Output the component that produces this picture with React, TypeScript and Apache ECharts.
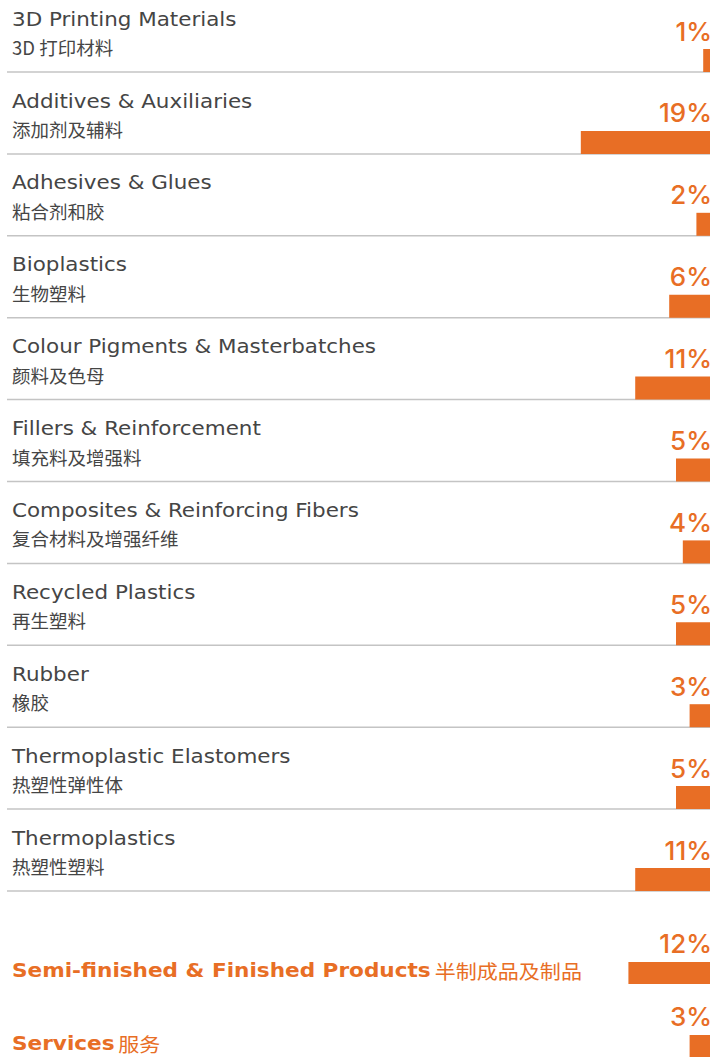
import React, { useEffect, useRef } from "react";
import * as echarts from "echarts";

const categoriesEn = [
  "3D Printing Materials",
  "Additives & Auxiliaries",
  "Adhesives & Glues",
  "Bioplastics",
  "Colour Pigments & Masterbatches",
  "Fillers & Reinforcement",
  "Composites & Reinforcing Fibers",
  "Recycled Plastics",
  "Rubber",
  "Thermoplastic Elastomers",
  "Thermoplastics",
];
const categoriesZh = [
  "3D 打印材料",
  "添加剂及辅料",
  "粘合剂和胶",
  "生物塑料",
  "颜料及色母",
  "填充料及增强料",
  "复合材料及增强纤维",
  "再生塑料",
  "橡胶",
  "热塑性弹性体",
  "热塑性塑料",
];
const values = [1, 19, 2, 6, 11, 5, 4, 5, 3, 5, 11];

const specialEn = ["Semi-finished & Finished Products", "Services"];
const specialZh = ["半制成品及制品", "服务"];
const specialValues = [12, 3];

const ORANGE = "#E86E25";
const TEXT = "#454545";
const LINE = "#c4c4c4";
const FONT_EN = '"DejaVu Sans", "Noto Sans CJK SC", sans-serif';
const FONT_ZH = '"Noto Sans CJK SC", sans-serif';
const FONT_NUM = 'Inter, sans-serif';
const XMAX = 103.4;

export default function App() {
  const ref = useRef<HTMLDivElement>(null);
  useEffect(() => {
    if (!ref.current) return;
    const chart = echarts.init(ref.current, null, { renderer: "svg" });

    const mainRender = (params: any, api: any) => {
      const idx = params.dataIndex;
      const v = api.value(0);
      const p0 = api.coord([0, idx]);
      const p1 = api.coord([v, idx]);
      const bottom = p0[1];
      const left = params.coordSys.x;
      return {
        type: "group",
        children: [
          {
            type: "line",
            shape: { x1: left, y1: bottom, x2: p0[0], y2: bottom },
            style: { stroke: LINE, lineWidth: 1.5 },
          },
          {
            type: "rect",
            shape: { x: p1[0], y: bottom - 23, width: p0[0] - p1[0], height: 23 },
            style: { fill: ORANGE },
          },
          {
            type: "text",
            x: left + 5,
            y: bottom - 53,
            scaleX: 1.1,
            style: {
              text: categoriesEn[idx],
              fill: TEXT,
              font: `400 19.5px ${FONT_EN}`,
              textAlign: "left",
              textVerticalAlign: "middle",
            },
          },
          {
            type: "text",
            x: left + 5,
            y: bottom - 25,
            style: {
              text: categoriesZh[idx],
              fill: TEXT,
              font: `400 18.5px ${FONT_ZH}`,
              textAlign: "left",
              textVerticalAlign: "middle",
            },
          },
          {
            type: "text",
            x: p0[0] + 2,
            y: bottom - 41,
            style: {
              text: v + "%",
              fill: ORANGE,
              font: `500 26px ${FONT_NUM}`,
              textAlign: "right",
              textVerticalAlign: "middle",
            },
          },
        ],
      };
    };

    const specialRender = (params: any, api: any) => {
      const idx = params.dataIndex;
      const v = api.value(0);
      const p0 = api.coord([0, idx]);
      const p1 = api.coord([v, idx]);
      const bottom = p0[1];
      const left = params.coordSys.x;
      return {
        type: "group",
        children: [
          {
            type: "rect",
            shape: { x: p1[0], y: bottom - 22, width: p0[0] - p1[0], height: 22 },
            style: { fill: ORANGE },
          },
          {
            type: "text",
            x: left + 5,
            y: bottom - 14,
            scaleX: 1.08,
            style: {
              text: `{a|${specialEn[idx]}} {b|${specialZh[idx]}}`,
              textAlign: "left",
              textVerticalAlign: "middle",
              rich: {
                a: { fill: ORANGE, fontFamily: FONT_EN, fontSize: 20, fontWeight: 700 },
                b: { fill: ORANGE, fontFamily: FONT_ZH, fontSize: 19.5, fontWeight: 400 },
              },
            },
          },
          {
            type: "text",
            x: p0[0] + 2,
            y: bottom - 41,
            style: {
              text: v + "%",
              fill: ORANGE,
              font: `500 26px ${FONT_NUM}`,
              textAlign: "right",
              textVerticalAlign: "middle",
            },
          },
        ],
      };
    };

    chart.setOption({
      animation: false,
      backgroundColor: "#ffffff",
      grid: [
        { left: 7, right: 17, top: 72, height: 819 },
        { left: 7, right: 17, top: 984, height: 74 },
      ],
      xAxis: [
        { type: "value", gridIndex: 0, min: 0, max: XMAX, inverse: true, show: false },
        { type: "value", gridIndex: 1, min: 0, max: XMAX, inverse: true, show: false },
      ],
      yAxis: [
        { type: "category", gridIndex: 0, data: categoriesEn, inverse: true, boundaryGap: false, show: false },
        { type: "category", gridIndex: 1, data: specialEn, inverse: true, boundaryGap: false, show: false },
      ],
      series: [
        {
          type: "custom",
          xAxisIndex: 0,
          yAxisIndex: 0,
          clip: false,
          renderItem: mainRender,
          encode: { x: 0, y: 1 },
          data: values.map((v, i) => [v, i]),
        },
        {
          type: "custom",
          xAxisIndex: 1,
          yAxisIndex: 1,
          clip: false,
          renderItem: specialRender,
          encode: { x: 0, y: 1 },
          data: specialValues.map((v, i) => [v, i]),
        },
      ],
    });
    return () => chart.dispose();
  }, []);
  return (
    <div
      ref={ref}
      style={{ position: "fixed", left: 0, top: 0, width: 727, height: 1057 }}
    />
  );
}
